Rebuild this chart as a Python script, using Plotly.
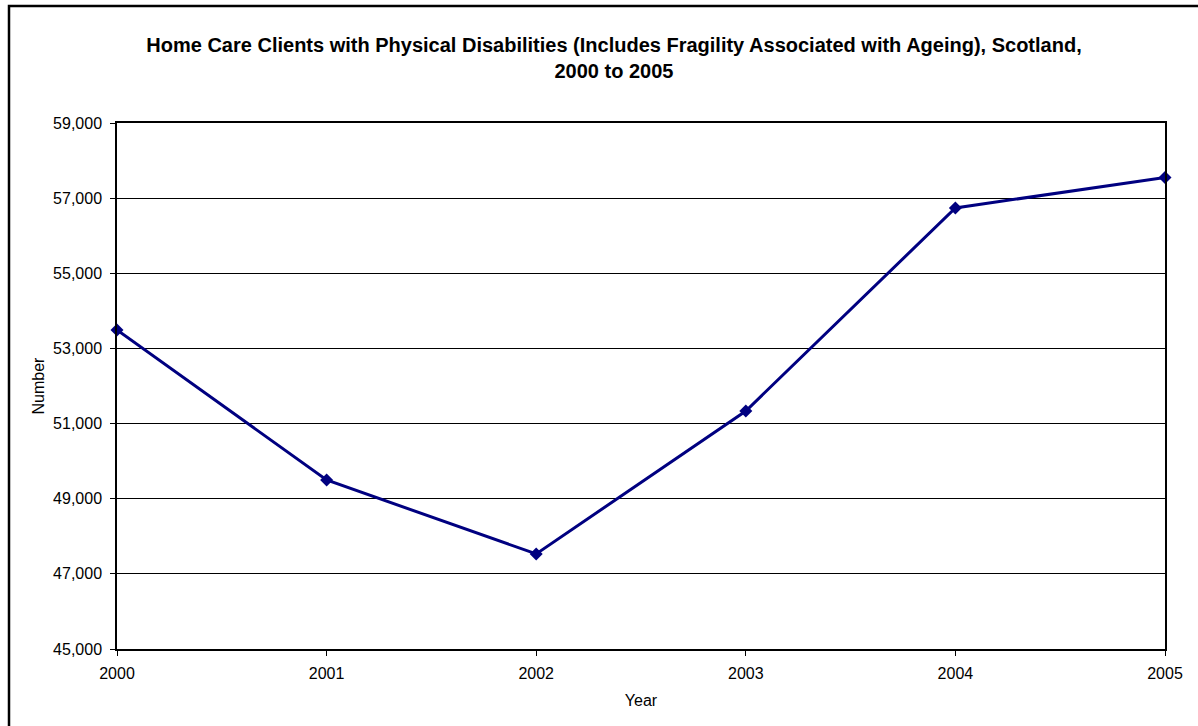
import plotly.graph_objects as go

years = [2000, 2001, 2002, 2003, 2004, 2005]
clients = [53490, 49500, 47530, 51335, 56740, 57550]
y_ticks = [45000, 47000, 49000, 51000, 53000, 55000, 57000, 59000]
y_tick_labels = [f"{v:,}" for v in y_ticks]

W, H = 1198, 726
L, R, T, B = 117, 33, 123, 77
pw, ph = W - L - R, H - T - B

def px_x(x):
    return (x - L) / pw

def px_y(y):
    return (H - B - y) / ph

fig = go.Figure()
fig.add_trace(go.Scatter(
    x=years, y=clients, mode="lines+markers",
    line=dict(color="#000080", width=3),
    marker=dict(symbol="diamond", size=10, color="#000080"),
    showlegend=False,
    cliponaxis=False,
))

font = "Liberation Sans, Arial, sans-serif"
fig.update_layout(
    width=W, height=H,
    margin=dict(l=L, r=R, t=T, b=B),
    paper_bgcolor="white", plot_bgcolor="white",
    font=dict(family=font, color="black", size=16),
    title=dict(
        text="<b>Home Care Clients with Physical Disabilities (Includes Fragility Associated with Ageing), Scotland,<br>2000 to 2005</b>",
        x=614 / W, xanchor="center", y=1 - 52 / H, yanchor="top",
        font=dict(family=font, size=20, color="black"),
    ),
    xaxis=dict(
        range=[2000, 2005], tickvals=years, ticktext=[str(y) for y in years],
        showgrid=False, zeroline=False,
        showline=True, linecolor="black", linewidth=2, mirror=True,
        ticks="outside", ticklen=5, tickcolor="black",
        ticklabelstandoff=4,
        tickfont=dict(size=16),
        title=dict(text="Year", font=dict(size=16), standoff=14),
    ),
    yaxis=dict(
        range=[45000, 59000], tickvals=y_ticks, ticktext=y_tick_labels,
        showgrid=True, gridcolor="black", gridwidth=1, zeroline=False,
        showline=True, linecolor="black", linewidth=1.5, mirror=True,
        ticks="outside", ticklen=5, tickcolor="black",
        ticklabelstandoff=5,
        tickfont=dict(size=16),
        title=dict(text="Number", font=dict(size=16), standoff=5),
    ),
    shapes=[dict(
        type="rect", xref="paper", yref="paper",
        x0=px_x(9), x1=px_x(1205), y0=px_y(6), y1=px_y(735),
        line=dict(color="black", width=2.5), fillcolor="rgba(0,0,0,0)", layer="above",
    )],
)

fig.write_html("out.html", config={"displayModeBar": False},
               post_script="document.body.style.margin='0';")
